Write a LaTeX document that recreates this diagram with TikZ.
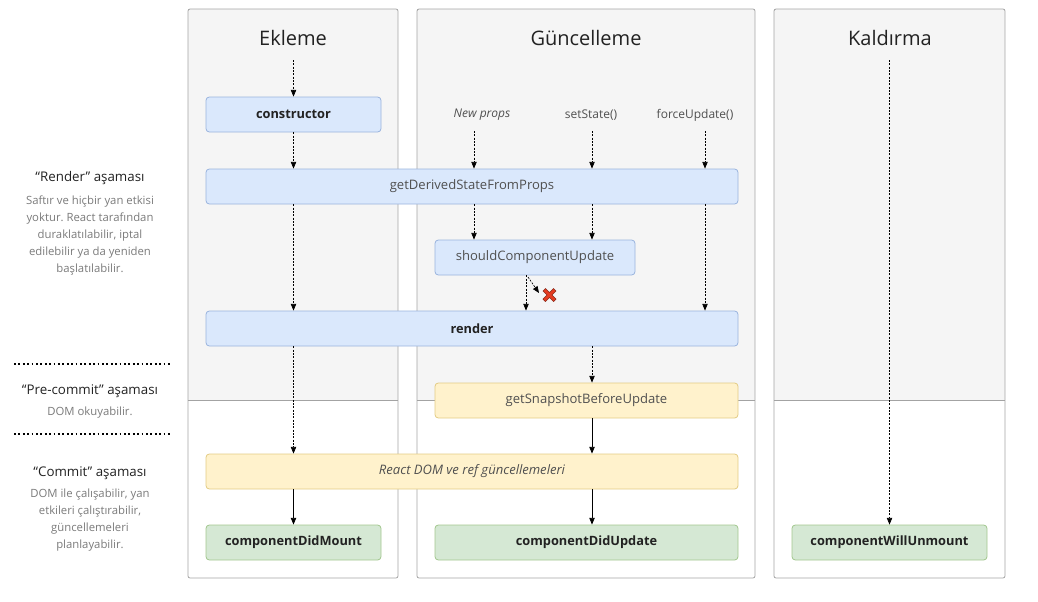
\documentclass[tikz,border=0pt]{standalone}
\usepackage{fontspec}
\setmainfont{Open Sans}
\usetikzlibrary{arrows.meta}
\frenchspacing

\definecolor{panelfill}{HTML}{F5F5F5}
\definecolor{panelborder}{HTML}{A3A3A3}
\definecolor{blufill}{HTML}{DAE8FC}
\definecolor{bludraw}{HTML}{9AB4DE}
\definecolor{ylwfill}{HTML}{FFF2CC}
\definecolor{ylwdraw}{HTML}{E3CC85}
\definecolor{grnfill}{HTML}{D5E8D4}
\definecolor{grndraw}{HTML}{A3C78F}
\definecolor{boxtext}{HTML}{505050}
\definecolor{headtext}{HTML}{222222}
\definecolor{sidetext}{HTML}{7A7A7A}
\definecolor{crossred}{HTML}{E53B20}
\definecolor{crossdark}{HTML}{8A2A1A}

\tikzset{
  box/.style={draw, rounded corners=2.5pt, line width=0.6pt, inner sep=0pt,
    minimum height=26.25pt, font=\fontsize{9.8}{11}\selectfont, text=boxtext},
  blubox/.style={box, fill=blufill, draw=bludraw},
  ylwbox/.style={box, fill=ylwfill, draw=ylwdraw},
  grnbox/.style={box, fill=grnfill, draw=grndraw},
  strong/.style={font=\fontsize{9.6}{11}\selectfont\bfseries, text=headtext},
  title/.style={font=\fontsize{15}{18}\selectfont, text=headtext},
  trigger/.style={font=\fontsize{9}{10}\selectfont, text=boxtext},
  phase/.style={font=\fontsize{10}{12}\selectfont, text=headtext},
  phasetext/.style={font=\fontsize{8.5}{12.75}\selectfont, text=sidetext, align=center},
  dflow/.style={-{Triangle[length=5pt,width=4pt]}, dash pattern=on 1.5pt off 1pt, line width=0.5pt},
  sflow/.style={-{Triangle[length=5pt,width=4pt]}, line width=0.6pt},
}

\begin{document}
\begin{tikzpicture}[x=0.75pt, y=-0.75pt]
\useasboundingbox (0,0) rectangle (1038,601);

% column panels
\foreach \xa/\xb in {188/398, 417/755, 774/1005} {
  \fill[panelfill] (\xa,9) rectangle (\xb,400);
  \draw[panelborder, line width=0.6pt, rounded corners=1.5pt] (\xa,9) rectangle (\xb,578);
  \draw[panelborder, line width=0.6pt] (\xa,400) -- (\xb,400);
}

\node (TE) [title] at (293,38) {Ekleme};
\node (TG) [title] at (586,38) {Güncelleme};
\node (TK) [title] at (890,38) {Kaldırma};

% phases on the left
\node (PR) [phase] at (90,178) {“Render” aşaması};
\node (PRT) [phasetext] at (90,236) {Saftır ve hiçbir yan etkisi\\yoktur. React tarafından\\duraklatılabilir, iptal\\edilebilir ya da yeniden\\başlatılabilir.};
\draw[line width=1.3pt, dotted] (14,364) -- (170,364);
\node (PP) [phase] at (90,391) {“Pre-commit” aşaması};
\node (PPT) [phasetext] at (90,412.5) {DOM okuyabilir.};
\draw[line width=1.3pt, dotted] (14,434) -- (170,434);
\node (PC) [phase] at (90,473) {“Commit” aşaması};
\node (PCT) [phasetext] at (90,520.5) {DOM ile çalışabilir, yan\\etkileri çalıştırabilir,\\güncellemeleri\\planlayabilir.};

% lifecycle boxes
\node (CT) [blubox, strong, minimum width=131.25pt] at (293.5,114.5) {constructor};
\node (GD) [blubox, minimum width=399pt] at (472,186.5) {getDerivedStateFromProps};
\node (SCU) [blubox, minimum width=150pt] at (535,257.5) {shouldComponentUpdate};
\node (RN) [blubox, strong, minimum width=399pt] at (472,328.5) {render};
\node (GS) [ylwbox, minimum width=227.25pt] at (586.5,400.5) {getSnapshotBeforeUpdate};
\node (RD) [ylwbox, minimum width=399pt] at (472,471.5) {\itshape React DOM ve ref güncellemeleri};
\node (CDM) [grnbox, strong, minimum width=131.25pt] at (293.5,542.5) {componentDidMount};
\node (CDU) [grnbox, strong, minimum width=227.25pt] at (586.5,542.5) {componentDidUpdate};
\node (CWU) [grnbox, strong, minimum width=146.25pt] at (889.5,542.5) {componentWillUnmount};

% update triggers
\node (NP) [trigger] at (482,115) {\itshape New props};
\node (SS) [trigger] at (591,115) {setState()};
\node (FU) [trigger] at (695,115) {forceUpdate()};
\coordinate (NP0) at (474,131);
\coordinate (SS0) at (592,131);
\coordinate (FU0) at (705,131);
\coordinate (EK0) at (293.5,60);
\coordinate (KA0) at (889.5,60);
\coordinate (SK0) at (526,0);
\coordinate (SK1) at (528,277);
\coordinate (SK2) at (539,293);

% mounting
\draw[dflow] (EK0) -- (CT.north);
\draw[dflow] (CT.south) -- (CT.south |- GD.north);
\draw[dflow] (CT |- GD.south) -- (CT |- RN.north);
\draw[dflow] (CT |- RN.south) -- (CT |- RD.north);
\draw[sflow] (CT |- RD.south) -- (CDM.north);

% updating
\draw[dflow] (NP0) -- (NP0 |- GD.north);
\draw[dflow] (SS0) -- (SS0 |- GD.north);
\draw[dflow] (FU0) -- (FU0 |- GD.north);
\draw[dflow] (NP0 |- GD.south) -- (NP0 |- SCU.north);
\draw[dflow] (SS0 |- GD.south) -- (SS0 |- SCU.north);
\draw[dflow] (FU0 |- GD.south) -- (FU0 |- RN.north);
\draw[dflow] (SK0 |- SCU.south) -- (SK0 |- RN.north);
\draw[dflow] (SK1) -- (SK2);
\draw[dflow] (SS0 |- RN.south) -- (SS0 |- GS.north);
\draw[sflow] (SS0 |- GS.south) -- (SS0 |- RD.north);
\draw[sflow] (SS0 |- RD.south) -- (SS0 |- CDU.north);

% skipped update
\draw[crossdark, line width=3pt] (544,289.5) -- (555,300.5) (544,300.5) -- (555,289.5);
\draw[crossred, line width=2pt] (544.5,290) -- (554.5,300) (544.5,300) -- (554.5,290);

% unmounting
\draw[dflow] (KA0) -- (CWU.north);
\end{tikzpicture}
\end{document}
